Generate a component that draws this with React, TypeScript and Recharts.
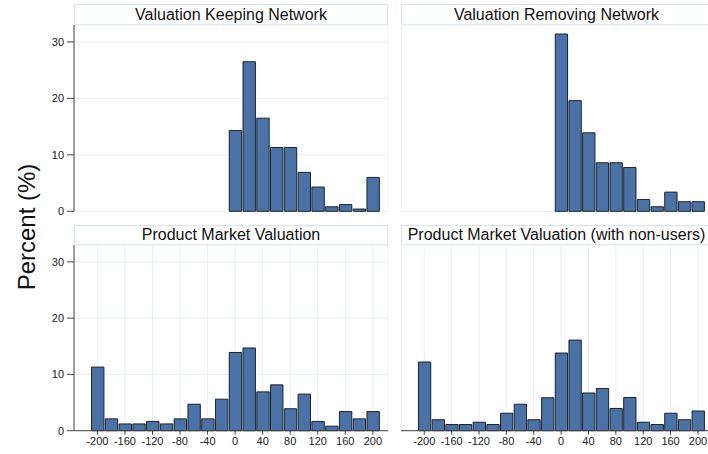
import React from "react";
import { BarChart, Bar, XAxis, YAxis, CartesianGrid } from "recharts";

// Histogram bins (centre of each 20-wide bin)
const allBins = [-200, -180, -160, -140, -120, -100, -80, -60, -40, -20, 0, 20, 40, 60, 80, 100, 120, 140, 160, 180, 200];
const positiveBins = [0, 20, 40, 60, 80, 100, 120, 140, 160, 180, 200];

// Percent per bin
const keepingNetwork = [14.3, 26.5, 16.5, 11.3, 11.3, 6.9, 4.3, 0.8, 1.2, 0.4, 6.0];
const removingNetwork = [31.4, 19.6, 13.9, 8.6, 8.6, 7.75, 2.1, 0.8, 3.4, 1.7, 1.7];
const productMarket = [11.3, 2.1, 1.2, 1.2, 1.65, 1.2, 2.1, 4.7, 2.1, 5.6, 13.9, 14.7, 6.9, 8.15, 3.9, 6.5, 1.65, 0.8, 3.4, 2.1, 3.4];
const productMarketNonUsers = [12.2, 1.95, 1.1, 1.1, 1.5, 1.1, 3.1, 4.7, 1.95, 5.85, 13.8, 16.1, 6.7, 7.5, 3.95, 5.9, 1.5, 1.1, 3.1, 1.95, 3.5];

const xTicks = [-200, -160, -120, -80, -40, 0, 40, 80, 120, 160, 200];
const yTicks = [0, 10, 20, 30];

const X_DOMAIN: [number, number] = [-234, 222];
const Y_DOMAIN: [number, number] = [0, 33];
const BIN_WIDTH = 20;

const FONT = '"Liberation Sans", Arial, Helvetica, sans-serif';
const BAR_FILL = "#4a72a6";
const BAR_STROKE = "#1c232b";
const GRID = "#e7eef3";
const AXIS = "#444";

// panel geometry
const LEFT_X = 74;
const RIGHT_X = 400.5;
const PLOT_W_LEFT = 314;
const PLOT_W_RIGHT = 312;
const PAD = 10;

const toRows = (bins: number[], values: number[]) =>
  bins.map((bin, i) => ({ bin, pct: values[i] }));

type PanelProps = {
  title: string;
  rows: { bin: number; pct: number }[];
  left: boolean;
  bottom: boolean;
  titleTop: number;
  titleH: number;
  plotTop: number;
  plotBottom: number;
};

const Panel = ({ title, rows, left, bottom, titleTop, titleH, plotTop, plotBottom }: PanelProps) => {
  const plotW = left ? PLOT_W_LEFT : PLOT_W_RIGHT;
  const plotH = plotBottom - plotTop;
  const yAxisW = left ? LEFT_X : 0;
  const xAxisH = bottom ? 24 : 0;
  const barSize = (BIN_WIDTH * plotW) / (X_DOMAIN[1] - X_DOMAIN[0]);
  const boxLeft = left ? LEFT_X : RIGHT_X;

  return (
    <>
      <div
        style={{
          position: "absolute",
          left: boxLeft,
          top: titleTop,
          width: plotW,
          height: titleH,
          boxSizing: "border-box",
          border: "1px solid #d8e4ed",
          background: "#fff",
          fontFamily: FONT,
          fontSize: 16,
          color: "#111",
          textAlign: "center",
          lineHeight: `${titleH - 2}px`,
          whiteSpace: "nowrap",
        }}
      >
        {title}
      </div>
      <div style={{ position: "absolute", left: left ? 0 : RIGHT_X, top: plotTop - PAD }}>
        <BarChart
          width={yAxisW + plotW}
          height={plotH + PAD + (bottom ? xAxisH : PAD)}
          data={rows}
          margin={{ top: PAD, right: 0, bottom: bottom ? 0 : PAD, left: 0 }}
          barCategoryGap={0}
          barGap={0}
        >
          <CartesianGrid stroke={GRID} strokeWidth={1} />
          <XAxis
            dataKey="bin"
            type="number"
            domain={X_DOMAIN}
            ticks={xTicks}
            interval={0}
            height={xAxisH}
            tick={bottom ? { fontSize: 11, fill: "#222", fontFamily: FONT } : false}
            tickLine={bottom ? { stroke: AXIS } : false}
            axisLine={bottom ? { stroke: AXIS } : false}
            tickSize={4}
            tickMargin={3}
          />
          <YAxis
            type="number"
            domain={Y_DOMAIN}
            ticks={yTicks}
            interval={0}
            width={yAxisW}
            tick={left ? { fontSize: 11, fill: "#222", fontFamily: FONT } : false}
            tickLine={left ? { stroke: AXIS } : false}
            axisLine={left ? { stroke: AXIS } : false}
            tickSize={7}
            tickMargin={3}
          />
          <Bar
            dataKey="pct"
            fill={BAR_FILL}
            stroke={BAR_STROKE}
            strokeWidth={1}
            barSize={barSize}
            isAnimationActive={false}
          />
        </BarChart>
      </div>
    </>
  );
};

export default function App() {
  return (
    <div
      style={{
        position: "absolute",
        left: 0,
        top: 0,
        width: 708,
        height: 454,
        overflow: "hidden",
        background: "#fff",
        fontFamily: FONT,
      }}
    >
      <svg width={60} height={454} style={{ position: "absolute", left: 0, top: 0 }}>
        <text
          x={35}
          y={227}
          transform="rotate(-90 35 227)"
          textAnchor="middle"
          fontSize={24}
          fontFamily={FONT}
          fill="#111"
        >
          Percent (%)
        </text>
      </svg>
      <Panel
        title="Valuation Keeping Network"
        rows={toRows(positiveBins, keepingNetwork)}
        left
        bottom={false}
        titleTop={4}
        titleH={21}
        plotTop={25}
        plotBottom={211.3}
      />
      <Panel
        title="Valuation Removing Network"
        rows={toRows(positiveBins, removingNetwork)}
        left={false}
        bottom={false}
        titleTop={4}
        titleH={21}
        plotTop={25}
        plotBottom={211.3}
      />
      <Panel
        title="Product Market Valuation"
        rows={toRows(allBins, productMarket)}
        left
        bottom
        titleTop={225}
        titleH={20}
        plotTop={245}
        plotBottom={430.7}
      />
      <Panel
        title="Product Market Valuation (with non-users)"
        rows={toRows(allBins, productMarketNonUsers)}
        left={false}
        bottom
        titleTop={225}
        titleH={20}
        plotTop={245}
        plotBottom={430.7}
      />
    </div>
  );
}
